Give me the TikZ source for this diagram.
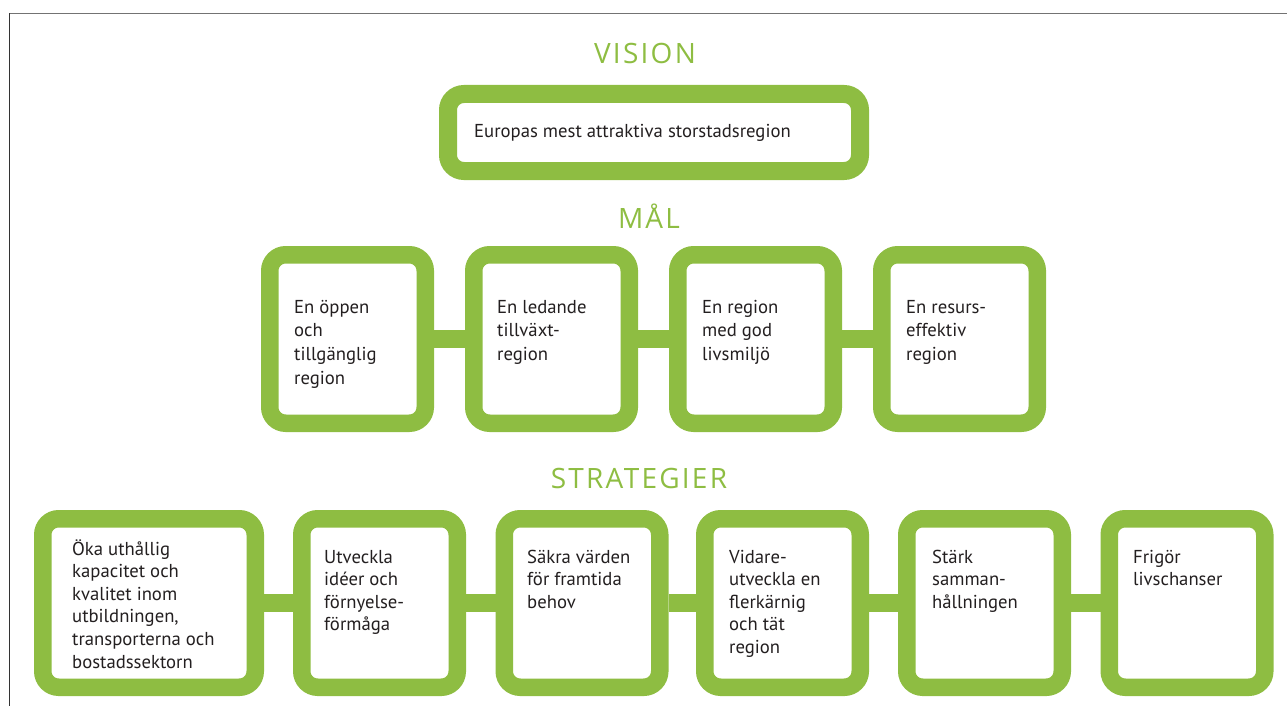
\documentclass[tikz,border=0pt]{standalone}
\usepackage{fontspec}
\setmainfont{PT Sans}
\newfontfamily\headfont[LetterSpace=8]{Open Sans}
\definecolor{grn}{RGB}{142,189,66}
\definecolor{ink}{RGB}{35,31,32}
\tikzset{
  box/.style={draw=grn, fill=white, line width=17.5pt, rounded corners=16pt, inner sep=0pt, minimum width=155.5pt, minimum height=168.5pt},
  link/.style={draw=grn, line width=18pt},
  txt/.style={anchor=base west, inner sep=0pt, text=ink, font=\fontsize{18.7}{23.7}\selectfont},
  stxt/.style={anchor=base west, inner sep=0pt, text=ink, font=\fontsize{18.7}{22.6}\selectfont},
  head/.style={anchor=base, inner sep=0pt, text=grn, font=\headfont\fontsize{28}{30}\selectfont},
}
\begin{document}
\begin{tikzpicture}[x=1pt,y=-1pt]
\useasboundingbox (0,0) rectangle (1287,706);
\coordinate (fl) at (9.5,706);
\coordinate (fc) at (9.5,13.5);
\coordinate (fr) at (1287,13.5);
\draw[line width=1.5pt, draw=black!80] (fl) -- (fc);
\draw[line width=1.5pt, draw=black!55] (fc) -- (fr);

% headings
\node[head] (hv) at (645,64) {VISION};
\node[head] (hm) at (649,228) {MÅL};
\node[head] (hs) at (639,488) {STRATEGIER};

% vision
\node[box, line width=18pt, minimum width=412pt, minimum height=77pt] (v) at (654,132.5) {};
\node[txt] (vt) at (474,137) {Europas mest attraktiva storstadsregion};

% goals
\node[box] (m1) at (347.5,339) {};
\node[box] (m2) at (551.5,339) {};
\node[box] (m3) at (755.5,339) {};
\node[box] (m4) at (959.5,339) {};
\draw[link] (m1.east) -- (m2.west);
\draw[link] (m2.east) -- (m3.west);
\draw[link] (m3.east) -- (m4.west);
\node[txt] (mt1) at (294,313) {\parbox[t]{140pt}{\raggedright En öppen\\och\\tillgänglig\\region}};
\node[txt] (mt2) at (497,313) {\parbox[t]{140pt}{\raggedright En ledande\\tillväxt-\\region}};
\node[txt] (mt3) at (702,313) {\parbox[t]{140pt}{\raggedright En region\\med god\\livsmiljö}};
\node[txt] (mt4) at (906,313) {\parbox[t]{140pt}{\raggedright En resurs-\\effektiv\\region}};

% strategies
\node[box, minimum width=212.5pt] (s1) at (149,603) {};
\node[box] (s2) at (379.5,603) {};
\node[box] (s3) at (582,603) {};
\node[box] (s4) at (782.5,603) {};
\node[box] (s5) at (984.5,603) {};
\node[box] (s6) at (1187,603) {};
\draw[link] (s1.east) -- (s2.west);
\draw[link] (s2.east) -- (s3.west);
\draw[link] (s3.east) -- (s4.west);
\draw[link] (s4.east) -- (s5.west);
\draw[link] (s5.east) -- (s6.west);
\node[stxt] (st1) at (72,555) {\parbox[t]{180pt}{\raggedright Öka uthållig\\kapacitet och\\kvalitet inom\\utbildningen,\\transporterna och\\bostadssektorn}};
\node[stxt] (st2) at (324,563) {\parbox[t]{140pt}{\raggedright Utveckla\\idéer och\\förnyelse-\\förmåga}};
\node[stxt] (st3) at (527,563) {\parbox[t]{140pt}{\raggedright Säkra värden\\för framtida\\behov}};
\node[stxt] (st4) at (729,563) {\parbox[t]{140pt}{\raggedright Vidare-\\utveckla en\\flerkärnig\\och tät\\region}};
\node[stxt] (st5) at (932,563) {\parbox[t]{140pt}{\raggedright Stärk\\samman-\\hållningen}};
\node[stxt] (st6) at (1133,563) {\parbox[t]{140pt}{\raggedright Frigör\\livschanser}};
\end{tikzpicture}
\end{document}
